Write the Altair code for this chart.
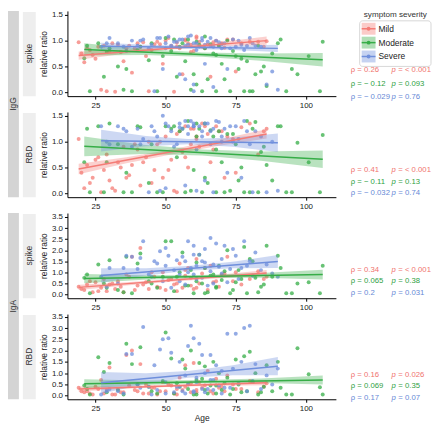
import altair as alt
import pandas as pd

GROUPS = ["Mild", "Moderate", "Severe"]
POINT_COLORS = ["#f47c76", "#36ad47", "#6f8fdc"]
TEXT_COLORS = ["#f0736e", "#2f9f3f", "#6689d6"]

AGES_MILD = [19, 21, 22, 24, 25, 27, 28, 29, 30, 32, 33, 35, 36, 38, 40, 41, 43, 44, 46, 47,
             49, 50, 52, 53, 55, 56, 57, 58, 60, 61, 62, 63, 65, 66, 68, 70, 72, 75, 80, 86,
             20, 23, 26, 31, 34, 37, 39, 42, 45, 48, 51, 54, 54, 57, 59, 59, 61, 64, 67, 69, 71, 74, 77, 83, 85]
AGES_MODERATE = [21, 23, 26, 28, 30, 33, 36, 38, 41, 44, 47, 50, 52, 54, 56, 58, 59, 60, 62, 63,
                 64, 65, 67, 68, 69, 70, 72, 73, 75, 76, 78, 79, 80, 82, 84, 86, 90, 93, 97, 106,
                 22, 29, 35, 40, 45, 49, 53, 55, 57, 61, 61, 64, 66, 68, 71, 74, 77, 81, 83, 85, 88, 91, 95, 101, 105]
AGES_SEVERE = [27, 30, 33, 36, 38, 40, 42, 44, 46, 48, 49, 50, 51, 52, 54, 55, 56, 57, 58, 59,
               60, 61, 62, 63, 64, 65, 66, 67, 68, 70, 71, 72, 74, 75, 77, 78, 80, 82, 86, 90,
               29, 35, 41, 45, 47, 50, 53, 55, 57, 58, 60, 61, 63, 64, 66, 67, 69, 70, 73, 76, 79, 81, 84, 88, 60]

IGG_SPIKE_MILD = [0.97, 0.58, 0.85, 0.72, 0.65, 0.05, 0.90, 0.02, 0.80, 0.01, 0.92, 0.60, 0.85, 0.38, 0.95, 0.88, 0.70, 0.02, 0.93, 0.98,
                  0.55, 1.00, 0.90, 0.01, 0.85, 0.35, 1.02, 0.95, 0.80, 1.05, 0.98, 0.88, 0.92, 0.30, 1.00, 0.95, 1.02, 0.40, 0.98, 0.99,
                  0.75, 0.82, 0.88, 0.95, 0.78, 0.90, 0.85, 0.97, 0.82, 0.93, 1.05, 0.88, 0.96, 1.00, 0.78, 0.92, 1.08, 0.85, 0.97, 0.90, 0.86, 1.02, 0.95, 0.98, 0.88]
IGG_SPIKE_MODERATE = [0.66, 0.02, 0.95, 0.30, 0.85, 0.50, 0.45, 0.02, 0.88, 0.62, 0.02, 1.05, 0.80, 0.30, 0.95, 1.02, 0.05, 0.35, 0.92, 0.02,
                      1.08, 0.25, 0.75, 0.02, 0.90, 0.55, 1.00, 0.02, 0.70, 0.45, 0.02, 0.60, 0.02, 0.35, 0.40, 0.12, 0.95, 0.02, 0.35, 0.98,
                      0.90, 0.78, 0.05, 0.82, 0.95, 0.70, 1.02, 0.88, 0.60, 0.98, 0.15, 0.85, 0.93, 0.72, 0.25, 0.80, 0.65, 0.02, 0.90, 0.50, 0.75, 1.02, 0.45, 0.70, 0.02]
IGG_SPIKE_SEVERE = [0.88, 1.05, 0.95, 0.80, 1.00, 0.90, 1.02, 0.85, 0.02, 1.05, 0.45, 0.95, 1.08, 0.90, 0.98, 0.35, 1.02, 0.25, 0.92, 1.10,
                    0.15, 0.95, 0.88, 1.05, 0.55, 0.98, 0.90, 0.10, 1.00, 0.85, 0.95, 0.45, 1.02, 0.88, 0.92, 0.82, 1.05, 0.90, 0.15, 0.05,
                    0.95, 0.88, 1.00, 0.92, 1.05, 0.85, 0.98, 1.02, 0.90, 1.08, 0.95, 0.82, 1.00, 0.92, 1.05, 0.88, 0.97, 0.93, 0.85, 1.00, 0.90, 0.95, 0.88, 0.40, 0.02]

IGG_RBD_MILD = [1.05, 0.10, 0.55, 0.30, 0.65, 0.02, 0.45, 0.75, 0.25, 0.05, 0.60, 0.90, 0.30, 0.55, 0.85, 0.15, 0.70, 1.00, 0.45, 0.95,
                0.30, 1.10, 0.65, 0.05, 1.20, 0.80, 1.30, 0.50, 1.25, 1.05, 0.90, 1.35, 1.15, 0.60, 1.30, 1.20, 1.10, 0.40, 1.35, 1.25,
                0.40, 0.20, 0.70, 0.10, 0.50, 0.35, 0.95, 0.60, 0.20, 1.00, 0.45, 1.15, 0.02, 0.70, 1.25, 0.95, 1.10, 1.30, 0.85, 1.20, 0.30, 1.05, 1.28, 0.75, 1.20]
IGG_RBD_MODERATE = [0.60, 0.02, 1.30, 0.02, 1.35, 0.95, 0.40, 0.02, 1.28, 0.20, 0.02, 1.30, 1.25, 0.70, 1.25, 1.40, 0.05, 0.45, 1.25, 0.02,
                    1.35, 0.20, 1.10, 0.02, 1.20, 0.60, 1.15, 0.05, 0.95, 0.25, 0.02, 1.40, 0.02, 1.38, 0.80, 0.55, 1.30, 0.02, 0.98, 1.13,
                    1.25, 0.60, 0.02, 1.30, 0.95, 0.02, 1.30, 1.20, 0.02, 1.35, 1.10, 0.30, 1.22, 0.85, 0.02, 1.15, 0.50, 1.25, 0.02, 0.90, 0.25, 1.30, 0.02, 0.60, 0.02]
IGG_RBD_SEVERE = [1.30, 0.95, 1.30, 1.20, 0.90, 1.25, 1.05, 0.02, 1.20, 0.05, 1.50, 0.10, 1.30, 1.20, 0.95, 1.35, 1.25, 0.15, 1.30, 1.40,
                  1.35, 0.85, 1.30, 1.10, 0.25, 1.35, 1.20, 0.02, 1.40, 1.00, 1.25, 0.40, 1.00, 1.30, 0.30, 1.40, 0.95, 1.20, 0.02, 0.05,
                  1.00, 1.25, 0.95, 1.30, 1.10, 1.35, 0.90, 1.28, 1.40, 1.15, 1.30, 0.05, 1.20, 1.35, 0.95, 1.25, 1.38, 1.10, 1.30, 1.05, 1.20, 0.02, 1.10, 1.00, 1.30]

IGA_SPIKE_MILD = [0.35, 0.20, 0.45, 0.10, 0.55, 0.30, 0.70, 0.15, 0.45, 0.25, 0.60, 0.10, 0.90, 1.70, 0.40, 2.10, 0.55, 0.25, 0.80, 0.35,
                  1.00, 0.20, 0.70, 0.45, 1.40, 0.30, 0.85, 1.20, 0.25, 1.60, 0.50, 0.95, 0.20, 1.30, 0.60, 0.90, 1.70, 1.00, 0.70, 0.80,
                  0.25, 0.60, 0.15, 0.50, 0.35, 0.80, 0.20, 0.45, 1.00, 0.30, 0.65, 0.15, 0.50, 1.10, 0.40, 0.75, 0.30, 1.20, 0.55, 0.35, 0.95, 0.60, 0.45, 1.05, 0.70]
IGA_SPIKE_MODERATE = [0.75, 0.05, 1.35, 0.50, 1.55, 0.20, 1.70, 0.05, 1.85, 0.60, 0.30, 2.40, 2.40, 0.80, 1.90, 0.40, 1.10, 0.05, 1.80, 0.50,
                      1.20, 0.10, 0.90, 0.30, 1.30, 0.65, 2.00, 0.05, 0.55, 1.10, 2.15, 0.05, 1.60, 0.75, 0.35, 2.20, 1.75, 0.05, 0.50, 1.30,
                      0.90, 0.30, 0.10, 1.40, 0.50, 0.80, 0.15, 1.00, 0.40, 0.60, 1.45, 0.05, 0.85, 0.35, 1.05, 0.20, 0.70, 1.50, 0.10, 0.45, 0.80, 1.20, 0.05, 0.55, 0.05]
IGA_SPIKE_SEVERE = [0.80, 1.20, 0.50, 1.75, 1.70, 1.15, 2.40, 0.90, 1.50, 1.95, 0.60, 1.30, 1.75, 0.30, 1.55, 0.90, 1.70, 0.45, 2.40, 1.20,
                    2.20, 0.70, 1.80, 1.50, 2.05, 0.40, 2.55, 1.35, 2.30, 1.60, 2.20, 0.55, 2.05, 1.75, 1.20, 2.40, 1.50, 1.90, 1.35, 0.80,
                    0.35, 1.20, 1.65, 0.80, 1.40, 2.10, 1.10, 0.60, 1.50, 1.00, 0.90, 1.30, 0.75, 1.45, 1.05, 0.50, 1.25, 0.95, 1.15, 0.70, 1.30, 0.85, 1.10, 0.95, 1.80]

IGA_RBD_MILD = [0.35, 0.15, 0.20, 0.05, 0.40, 0.70, 0.10, 0.25, 1.25, 0.05, 0.30, 0.15, 1.80, 2.00, 0.20, 1.40, 0.50, 0.10, 0.35, 0.05,
                0.60, 0.20, 0.45, 0.10, 0.80, 0.25, 1.35, 0.50, 1.45, 0.15, 0.60, 0.35, 1.10, 0.20, 0.75, 0.40, 0.90, 0.30, 0.65, 0.55,
                0.20, 0.10, 0.30, 0.05, 0.15, 0.45, 0.25, 0.10, 0.35, 0.20, 0.50, 0.05, 0.30, 0.40, 0.15, 0.55, 0.25, 0.45, 0.10, 0.35, 0.20, 0.50, 0.30, 0.15, 0.40]
IGA_RBD_MODERATE = [0.45, 0.05, 1.70, 1.05, 1.45, 0.25, 2.30, 1.40, 2.15, 0.40, 0.10, 2.80, 1.65, 0.55, 1.60, 0.30, 2.00, 0.05, 1.45, 0.75,
                    1.30, 0.10, 1.50, 0.45, 1.00, 0.25, 0.80, 0.05, 1.60, 0.50, 1.75, 0.20, 1.95, 1.00, 0.15, 1.35, 1.50, 0.05, 2.10, 0.05,
                    0.30, 0.15, 0.05, 0.50, 0.20, 0.65, 0.10, 0.40, 1.20, 0.05, 0.70, 0.25, 0.45, 0.10, 0.55, 0.30, 0.15, 0.60, 0.05, 0.40, 0.20, 0.35, 0.05, 0.95, 0.37]
IGA_RBD_SEVERE = [0.05, 0.30, 0.20, 1.85, 1.85, 0.50, 3.05, 0.40, 1.35, 2.05, 2.50, 0.10, 2.55, 1.90, 0.40, 1.50, 0.20, 0.90, 2.20, 3.10,
                  2.55, 0.60, 2.30, 1.80, 1.00, 0.30, 1.80, 0.70, 1.35, 1.10, 0.35, 2.75, 1.20, 2.75, 1.50, 3.00, 3.10, 1.40, 0.90, 1.20,
                  0.20, 0.10, 0.35, 0.05, 0.25, 0.60, 0.15, 0.40, 0.10, 0.50, 0.20, 0.80, 0.30, 0.15, 0.70, 0.25, 0.45, 0.10, 0.35, 0.55, 0.20, 0.65, 0.30, 0.50, 0.15]

BAND_AGES = {"Mild": [19, 36, 52, 69, 86], "Moderate": [21, 42, 63, 84, 106], "Severe": [27, 43, 58, 74, 90]}

IGG_SPIKE_LO = {"Mild": [0.63, 0.75, 0.83, 0.89, 0.92], "Moderate": [0.71, 0.72, 0.69, 0.61, 0.50], "Severe": [0.82, 0.84, 0.84, 0.82, 0.78]}
IGG_SPIKE_HI = {"Mild": [0.79, 0.83, 0.89, 0.97, 1.08], "Moderate": [0.95, 0.84, 0.77, 0.75, 0.76], "Severe": [0.96, 0.92, 0.90, 0.90, 0.92]}
IGG_SPIKE_LINE = {"Mild": [0.71, 1.00], "Moderate": [0.83, 0.63], "Severe": [0.89, 0.85]}

IGG_RBD_LO = {"Mild": [0.37, 0.58, 0.75, 0.92, 1.06], "Moderate": [0.72, 0.76, 0.73, 0.63, 0.49], "Severe": [0.81, 0.91, 0.95, 0.90, 0.80]}
IGG_RBD_HI = {"Mild": [0.57, 0.70, 0.85, 1.04, 1.24], "Moderate": [1.10, 0.94, 0.85, 0.81, 0.83], "Severe": [1.23, 1.11, 1.05, 1.08, 1.16]}
IGG_RBD_LINE = {"Mild": [0.47, 1.15], "Moderate": [0.91, 0.66], "Severe": [1.02, 0.98]}

IGA_SPIKE_LO = {"Mild": [0.20, 0.41, 0.58, 0.73, 0.84], "Moderate": [0.51, 0.67, 0.74, 0.75, 0.68], "Severe": [0.53, 0.86, 1.07, 1.18, 1.20]}
IGA_SPIKE_HI = {"Mild": [0.44, 0.55, 0.70, 0.89, 1.10], "Moderate": [0.93, 0.87, 0.88, 0.97, 1.12], "Severe": [1.19, 1.18, 1.29, 1.48, 1.78]}
IGA_SPIKE_LINE = {"Mild": [0.32, 0.97], "Moderate": [0.72, 0.90], "Severe": [0.86, 1.49]}

IGA_RBD_LO = {"Mild": [0.19, 0.31, 0.39, 0.44, 0.46], "Moderate": [0.33, 0.47, 0.55, 0.56, 0.50], "Severe": [0.09, 0.53, 0.79, 0.91, 0.91]}
IGA_RBD_HI = {"Mild": [0.41, 0.43, 0.49, 0.56, 0.68], "Moderate": [0.73, 0.67, 0.69, 0.76, 0.90], "Severe": [1.05, 0.99, 1.09, 1.35, 1.71]}
IGA_RBD_LINE = {"Mild": [0.30, 0.57], "Moderate": [0.53, 0.70], "Severe": [0.57, 1.31]}

RHO_TEXT = [["ρ = 0.26", "ρ = − 0.12", "ρ = − 0.029"],
            ["ρ = 0.41", "ρ = − 0.11", "ρ = − 0.032"],
            ["ρ = 0.34", "ρ = 0.065", "ρ = 0.2"],
            ["ρ = 0.16", "ρ = 0.069", "ρ = 0.17"]]
P_TEXT = [["= < 0.001", "= 0.093", "= 0.76"],
          ["= < 0.001", "= 0.13", "= 0.74"],
          ["= < 0.001", "= 0.38", "= 0.031"],
          ["= 0.026", "= 0.35", "= 0.07"]]

X_DOMAIN = [15, 110.7]
X_TICKS = [25, 50, 75, 100]
Y_TICKS_IGG = [0.0, 0.5, 1.0, 1.5]
Y_TICKS_IGA = [0.0, 0.5, 1.0, 1.5, 2.0, 2.5, 3.0, 3.5]

PANELS = [
    {"iso": "IgG", "ag": "spike", "vals": [IGG_SPIKE_MILD, IGG_SPIKE_MODERATE, IGG_SPIKE_SEVERE],
     "lo": IGG_SPIKE_LO, "hi": IGG_SPIKE_HI, "line": IGG_SPIKE_LINE, "dom": [-0.075, 1.575], "ticks": Y_TICKS_IGG, "ann": [60, 74, 87]},
    {"iso": "IgG", "ag": "RBD", "vals": [IGG_RBD_MILD, IGG_RBD_MODERATE, IGG_RBD_SEVERE],
     "lo": IGG_RBD_LO, "hi": IGG_RBD_HI, "line": IGG_RBD_LINE, "dom": [-0.075, 1.575], "ticks": Y_TICKS_IGG, "ann": [59, 71, 82]},
    {"iso": "IgA", "ag": "spike", "vals": [IGA_SPIKE_MILD, IGA_SPIKE_MODERATE, IGA_SPIKE_SEVERE],
     "lo": IGA_SPIKE_LO, "hi": IGA_SPIKE_HI, "line": IGA_SPIKE_LINE, "dom": [-0.17, 3.68], "ticks": Y_TICKS_IGA, "ann": [58, 69, 81]},
    {"iso": "IgA", "ag": "RBD", "vals": [IGA_RBD_MILD, IGA_RBD_MODERATE, IGA_RBD_SEVERE],
     "lo": IGA_RBD_LO, "hi": IGA_RBD_HI, "line": IGA_RBD_LINE, "dom": [-0.16, 3.62], "ticks": Y_TICKS_IGA, "ann": [62, 73, 85]},
]
AGES = [AGES_MILD, AGES_MODERATE, AGES_SEVERE]

W, H, GAP = 271, 86, 16
FONT = "Liberation Sans"
ANN_SIZE = 7.8
ONE = pd.DataFrame({"k": [0]})


def deco_rect(x, x2, y, y2, **kw):
    return alt.Chart(ONE).mark_rect(**kw).encode(
        x=alt.value(x), x2=alt.value(x2), y=alt.value(y), y2=alt.value(y2))


def deco_text(x, y, text, **kw):
    return alt.Chart(ONE).mark_text(text=text, font=FONT, **kw).encode(x=alt.value(x), y=alt.value(y))


color = alt.Color("group:N", scale=alt.Scale(domain=GROUPS, range=POINT_COLORS), legend=None)


def panel(i):
    cfg = PANELS[i]
    pts, band, line = [], [], []
    for g, ages, vals in zip(GROUPS, AGES, cfg["vals"]):
        for a, v in zip(ages, vals):
            pts.append({"age": a, "value": v, "group": g})
        for a, lo, hi in zip(BAND_AGES[g], cfg["lo"][g], cfg["hi"][g]):
            band.append({"age": a, "lo": lo, "hi": hi, "group": g})
        bx = BAND_AGES[g]
        for a, v in zip([bx[0], bx[-1]], cfg["line"][g]):
            line.append({"age": a, "value": v, "group": g})
    xs = alt.Scale(domain=X_DOMAIN, nice=False, zero=False)
    ys = alt.Scale(domain=cfg["dom"], nice=False, zero=False)
    last = i == 3
    if last:
        xax = alt.Axis(values=X_TICKS, title="Age", titlePadding=1, labelFlush=False)
    else:
        xax = alt.Axis(values=X_TICKS, title=None, labelFlush=False)
    yax = alt.Axis(values=cfg["ticks"], format=".1f", title="relative ratio", titlePadding=3, labelFlush=False)

    p_layer = alt.Chart(pd.DataFrame(pts)).mark_circle(size=16, opacity=0.75).encode(
        x=alt.X("age:Q", scale=xs, axis=xax),
        y=alt.Y("value:Q", scale=ys, axis=yax),
        color=color,
    )
    b_layer = alt.Chart(pd.DataFrame(band)).mark_area(opacity=0.35).encode(
        x=alt.X("age:Q", scale=xs, axis=xax),
        y=alt.Y("lo:Q", scale=ys, axis=yax),
        y2="hi:Q",
        color=color,
    )
    l_layer = alt.Chart(pd.DataFrame(line)).mark_line(strokeWidth=1.5).encode(
        x=alt.X("age:Q", scale=xs, axis=xax),
        y=alt.Y("value:Q", scale=ys, axis=yax),
        color=color,
    )
    layers = []
    # strips
    if cfg["ag"] == "spike":
        layers.append(deco_rect(-60, -49, 0, 2 * H + GAP, fill="#d4d4d4"))
        layers.append(deco_text(-54.5, (2 * H + GAP) / 2, cfg["iso"], angle=270, fontSize=8.5, color="#333333"))
    layers.append(deco_rect(-45, -32, 1, H, fill="#eeeeee"))
    layers.append(deco_text(-38.5, H / 2, cfg["ag"], angle=270, fontSize=8.5, color="#333333"))
    layers += [p_layer, b_layer, l_layer]
    # annotations
    for k in range(3):
        yv = cfg["ann"][k]
        layers.append(deco_text(286, yv, RHO_TEXT[i][k], align="left", fontSize=ANN_SIZE, color=TEXT_COLORS[k]))
        layers.append(deco_text(327, yv, "p", align="left", fontSize=ANN_SIZE, fontStyle="italic", color=TEXT_COLORS[k]))
        layers.append(deco_text(334, yv, P_TEXT[i][k], align="left", fontSize=ANN_SIZE, color=TEXT_COLORS[k]))
    # legend
    if i == 0:
        layers.append(deco_text(331, 4, "symptom severity", align="center", fontSize=8.2, color="#333333"))
        layers.append(deco_rect(295, 367, 10, 56, fill="white", stroke="#cccccc", strokeWidth=0.8, cornerRadius=3))
        for k, g in enumerate(GROUPS):
            yc = 18 + 14 * k
            layers.append(deco_rect(297, 311, yc - 6, yc + 6, fill=POINT_COLORS[k], opacity=0.4))
            layers.append(alt.Chart(ONE).mark_rule(color=POINT_COLORS[k], strokeWidth=1.5).encode(
                x=alt.value(297), x2=alt.value(311), y=alt.value(yc)))
            layers.append(alt.Chart(ONE).mark_circle(size=15, opacity=1, color=POINT_COLORS[k]).encode(
                x=alt.value(304), y=alt.value(yc)))
            layers.append(deco_text(314, yc, g, align="left", fontSize=8.5, color="#222222"))
    return alt.layer(*layers).properties(width=W, height=H)


chart = alt.vconcat(*[panel(i) for i in range(4)], spacing=GAP, bounds="flush").resolve_scale(
    y="independent"
).properties(padding=0).configure(font=FONT).configure_view(strokeWidth=0).configure_axis(
    grid=False,
    domainColor="#000000",
    domainWidth=1,
    tickColor="#000000",
    tickSize=3,
    labelFontSize=8,
    labelColor="#222222",
    labelFont=FONT,
    titleFont=FONT,
    titleFontSize=8.5,
    titleFontWeight="normal",
    titleColor="#222222",
    labelPadding=2,
)

chart.save("out.html", embed_options={"renderer": "svg", "actions": False})
